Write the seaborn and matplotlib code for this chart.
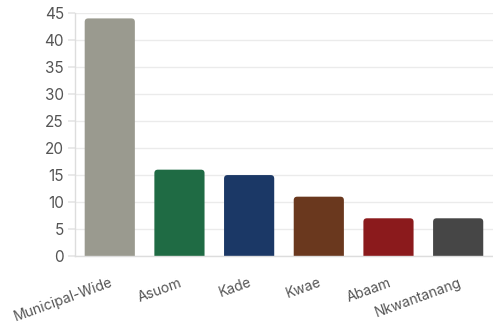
import matplotlib
matplotlib.use("Agg")
import matplotlib.pyplot as plt
import seaborn as sns
import pandas as pd
from matplotlib.patches import FancyBboxPatch

categories = ["Municipal-Wide", "Asuom", "Kade", "Kwae", "Abaam", "Nkwantanang"]
values = [44, 16, 15, 11, 7, 7]
colors = ["#9a9a8f", "#1f6b44", "#1b3866", "#6a381e", "#8b1a1c", "#464646"]

sns.set_theme(style="white")
plt.rcParams['font.family'] = ['Inter', 'DejaVu Sans']

fig = plt.figure(figsize=(4.93, 3.25), dpi=100)
ax = fig.add_axes([0.152, 0.212, 0.848, 0.748])

df = pd.DataFrame({"cat": categories, "val": values})
sns.barplot(data=df, x="cat", y="val", hue="cat", palette=colors, legend=False,
            width=0.72, saturation=1, ax=ax, zorder=2)

ax.set_ylim(0, 45)
ax.set_xlim(-0.5, 5.5)

# replace bars with rounded ones
fig.canvas.draw()
bbox = ax.get_window_extent()
xpp = 6.0 / bbox.width
ypp = 45.0 / bbox.height
aspect = ypp / xpp
r = 3.5 * xpp
for p in list(ax.patches):
    x, w, h = p.get_x(), p.get_width(), p.get_height()
    fc = p.get_facecolor()
    p.remove()
    fb = FancyBboxPatch((x, -2), w, h + 2,
                        boxstyle=f"round,pad=0,rounding_size={r}",
                        mutation_aspect=aspect, facecolor=fc,
                        edgecolor="none", zorder=2)
    ax.add_patch(fb)

ax.set_yticks(range(0, 50, 5))
ax.yaxis.grid(True, color="#ebebeb", linewidth=1, zorder=0)
ax.set_axisbelow(True)
for s in ["top", "right"]:
    ax.spines[s].set_visible(False)
for s in ["left", "bottom"]:
    ax.spines[s].set_color("#dddddd")
    ax.spines[s].set_linewidth(1)
ax.tick_params(axis="y", left=True, length=5, color="#e6e6e6", labelsize=11,
               labelcolor="#555555", pad=3)
ax.tick_params(axis="x", bottom=False, labelsize=10, labelcolor="#555555", pad=8)
ax.set_xlabel("")
ax.set_ylabel("")
ax.set_xticks(range(len(categories)))
ax.set_xticklabels(categories, rotation=20, ha="right", rotation_mode="anchor")

fig.savefig("out.png", dpi=100)
